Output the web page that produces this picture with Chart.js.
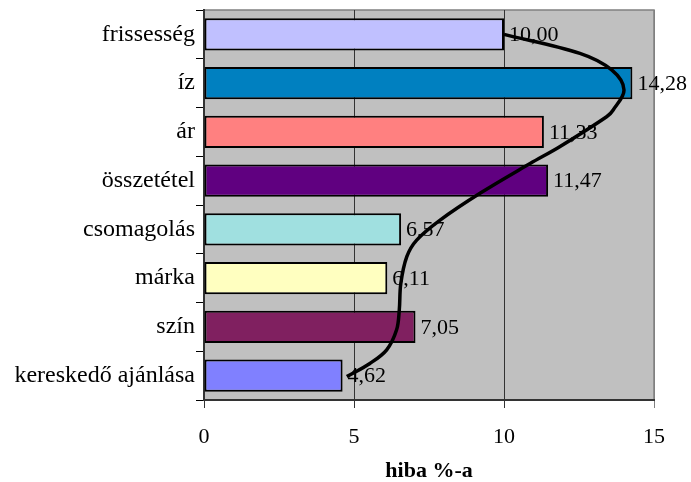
<!DOCTYPE html>
<html>
<head>
<meta charset="utf-8">
<script src="https://cdn.jsdelivr.net/npm/chart.js@4/dist/chart.umd.min.js"></script>
<style>
  html, body { margin: 0; padding: 0; background: #ffffff; }
  #wrap { width: 691px; height: 482px; }
</style>
</head>
<body>
<div id="wrap"><canvas id="c" width="691" height="482"></canvas></div>
<script>
// Survey categories, top to bottom
const categories = ['frissesség', 'íz', 'ár', 'összetétel', 'csomagolás', 'márka', 'szín', 'kereskedő ajánlása'];
// Error percentage per category
const errorRates = [10.00, 14.28, 11.33, 11.47, 6.57, 6.11, 7.05, 4.62];
// Value axis ticks
const xTicks = [0, 5, 10, 15];
// Freehand trend curve: value along x, position along the category axis (0 = first category)
const curveValues = [10.0, 12.53, 13.59, 14.0, 13.64, 13.42, 11.87, 10.87, 9.2, 7.87, 7.09, 6.76, 6.56, 6.51, 6.42, 6.09, 5.53, 4.76];
const curvePositions = [0.0, 0.39, 0.73, 1.14, 1.55, 1.69, 2.30, 2.65, 3.26, 3.81, 4.22, 4.56, 5.11, 5.65, 6.06, 6.47, 6.75, 7.02];

const barColors = ['#C0C0FF', '#0080C0', '#FF8080', '#600080', '#A0E0E0', '#FFFFC0', '#802060', '#8080FF'];
const serif = '"Liberation Serif", "Times New Roman", serif';
const fmt = v => v.toFixed(2).replace('.', ',');

// Gray plot background with a thin frame
const plotBackground = {
  id: 'plotBackground',
  beforeDraw(chart) {
    const { ctx, chartArea: a } = chart;
    ctx.save();
    ctx.fillStyle = '#C0C0C0';
    ctx.fillRect(a.left, a.top, a.right - a.left, a.bottom - a.top);
    ctx.strokeStyle = '#808080';
    ctx.lineWidth = 1.5;
    ctx.strokeRect(a.left, a.top, a.right - a.left, a.bottom - a.top);
    ctx.restore();
  }
};

// Value labels next to each bar end
const barValueLabels = {
  id: 'barValueLabels',
  afterDatasetDraw(chart, args) {
    if (args.meta.type !== 'bar') return;
    const { ctx } = chart;
    const ds = chart.data.datasets[args.index];
    ctx.save();
    ctx.font = '22px ' + serif;
    ctx.fillStyle = '#000000';
    ctx.textAlign = 'left';
    ctx.textBaseline = 'middle';
    args.meta.data.forEach((bar, i) => {
      ctx.fillText(fmt(ds.data[i]), bar.x + 5, bar.y + 1);
    });
    ctx.restore();
  }
};

const curveData = curveValues.map((v, i) => ({ x: v, y: curvePositions[i] }));

new Chart(document.getElementById('c'), {
  type: 'bar',
  data: {
    labels: categories,
    datasets: [
      {
        type: 'bar',
        label: 'hiba %-a',
        data: errorRates,
        backgroundColor: barColors,
        borderColor: '#000000',
        borderWidth: 2,
        borderSkipped: false,
        grouped: false,
        barPercentage: 0.66,
        categoryPercentage: 1.0,
        xAxisID: 'x',
        yAxisID: 'y',
        order: 2
      },
      {
        type: 'line',
        label: 'trend',
        data: curveData,
        indexAxis: 'y',
        xAxisID: 'x',
        yAxisID: 'yc',
        borderColor: '#000000',
        borderWidth: 3.5,
        pointRadius: 0,
        fill: false,
        tension: 0.35,
        order: 1
      }
    ]
  },
  options: {
    indexAxis: 'y',
    responsive: false,
    devicePixelRatio: 1,
    animation: false,
    layout: { padding: { top: 10, right: 37, left: 0, bottom: 0 } },
    plugins: { legend: { display: false }, tooltip: { enabled: false } },
    scales: {
      x: {
        type: 'linear', position: 'bottom', min: 0, max: 15,
        afterBuildTicks(scale) { scale.ticks = xTicks.map(v => ({ value: v })); },
        afterFit(scale) { scale.height = 82; },
        ticks: { color: '#000000', font: { family: serif, size: 22 }, padding: 16, maxRotation: 0 },
        grid: {
          color: ctx => (ctx.tick && ctx.tick.value === 15) ? '#808080' : '#333333',
          lineWidth: 1, tickLength: 8, drawOnChartArea: true
        },
        border: { color: '#333333', width: 2 },
        title: { display: true, text: 'hiba %-a', color: '#000000', font: { family: serif, size: 22, weight: 'bold' }, padding: { top: 0, bottom: -3 } }
      },
      y: {
        type: 'category', position: 'left', offset: true,
        afterFit(scale) { scale.width = 204; scale.paddingTop = 0; scale.paddingBottom = 0; },
        ticks: { color: '#000000', font: { family: serif, size: 24 }, padding: 1, autoSkip: false },
        grid: { offset: true, drawOnChartArea: false, color: '#000000', tickLength: 8, lineWidth: 1 },
        border: { color: '#333333', width: 2 }
      },
      yc: {
        type: 'linear', position: 'left', display: false, offset: false,
        min: -0.5, max: 7.5, reverse: true
      }
    }
  },
  plugins: [plotBackground, barValueLabels]
});
</script>
</body>
</html>
